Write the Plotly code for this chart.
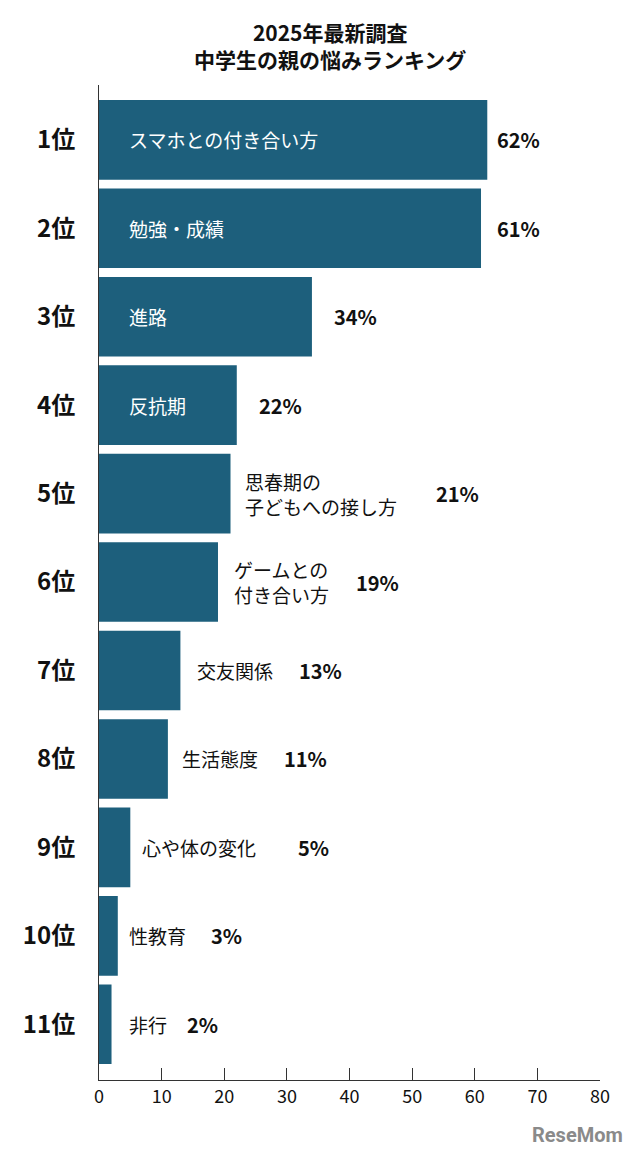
import plotly.graph_objects as go

ranks = ["1位", "2位", "3位", "4位", "5位", "6位", "7位", "8位", "9位", "10位", "11位"]
items = ["スマホとの付き合い方", "勉強・成績", "進路", "反抗期", "思春期の<br>子どもへの接し方",
         "ゲームとの<br>付き合い方", "交友関係", "生活態度", "心や体の変化", "性教育", "非行"]
values = [62, 61, 34, 22, 21, 19, 13, 11, 5, 3, 2]

# label placement (data x) tuned to the original layout
inside = [True, True, True, True, False, False, False, False, False, False, False]
label_x = [4.5, 4.5, 4.5, 4.5, 23, 21.2, 15.3, 13, 6.5, 4.5, 4.5]
pct_x = [67, 67, 41, 29, 57.3, 44.4, 35.3, 32.9, 34.2, 20.3, 16.6]

BAR = "#1d5f7c"
FONT = "Noto Sans CJK JP"

fig = go.Figure(go.Bar(
    x=values, y=ranks, orientation="h",
    marker=dict(color=BAR, line=dict(width=0)),
    width=0.9, hoverinfo="skip",
))

for r, name, v, ins, lx, px in zip(ranks, items, values, inside, label_x, pct_x):
    fig.add_annotation(x=lx, y=r, text=name, showarrow=False, xanchor="left", align="left",
                       font=dict(size=19, color="white" if ins else "#111", family=FONT))
    fig.add_annotation(x=px, y=r, text=f"<b>{v}%</b>", showarrow=False,
                       font=dict(size=20, color="#111", family=FONT))

# title
fig.add_annotation(x=0.5, y=1, xref="paper", yref="paper", yshift=40, xshift=-20,
                   text="<b>2025年最新調査<br>中学生の親の悩みランキング</b>",
                   showarrow=False, yanchor="middle",
                   font=dict(size=21, color="#111", family=FONT))
# watermark
fig.add_annotation(x=1, y=0, xref="paper", yref="paper", yshift=-55, xshift=25,
                   text="<b>ReseMom</b>", showarrow=False, xanchor="right", yanchor="middle",
                   font=dict(size=20, color="#8a8a8a", family="Roboto"))

fig.update_layout(
    width=640, height=1162,
    margin=dict(l=91, r=48, t=77, b=90, autoexpand=False),
    paper_bgcolor="white", plot_bgcolor="white",
    showlegend=False,
    xaxis=dict(range=[0, 80], dtick=10, showgrid=False, zeroline=False, automargin=False,
               showline=True, linecolor="#333", linewidth=1,
               ticks="inside", ticklen=12, tickcolor="#333",
               tickfont=dict(size=18, color="#111", family=FONT)),
    yaxis=dict(range=[10.63, -0.62], autorange=False, showgrid=False, automargin=False,
               showline=True, linecolor="#333", linewidth=1,
               ticks="", ticklabelstandoff=18,
               tickprefix="<b>", ticksuffix="</b>",
               tickfont=dict(size=24, color="#111", family=FONT)),
)

fig.write_html("out.html")
